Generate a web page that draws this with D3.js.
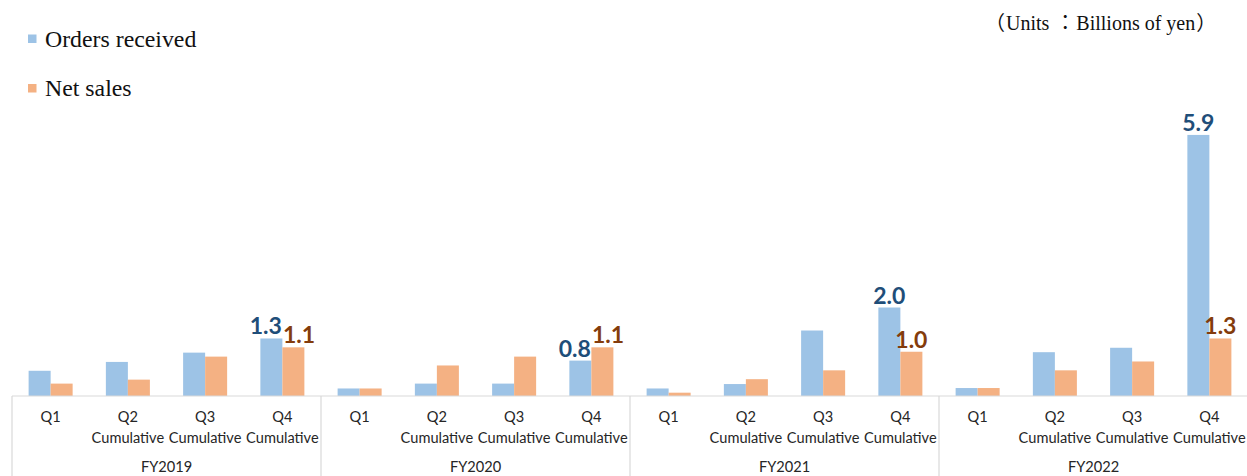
<!DOCTYPE html>
<html>
<head>
<meta charset="utf-8">
<script src="https://cdn.jsdelivr.net/npm/d3@7"></script>
<style>
  html, body { margin: 0; padding: 0; background: #fff; }
  svg { display: block; }
  .serif { font-family: "Liberation Serif", "DejaVu Serif", serif; }
  .cjk { font-family: "Noto Sans CJK JP", sans-serif; }
</style>
</head>
<body>
<svg id="chart" width="1247" height="476"></svg>
<script>
// Fiscal years and cumulative quarter periods
const years = ["FY2019", "FY2020", "FY2021", "FY2022"];
const quarters = ["Q1", "Q2", "Q3", "Q4"];
const quarterSub = ["", "Cumulative", "Cumulative", "Cumulative"];
const seriesNames = ["Orders received", "Net sales"];

// Billions of yen, cumulative per fiscal year (Q1..Q4 for each FY)
const ordersReceived = [
  0.57, 0.77, 0.98, 1.3,
  0.17, 0.28, 0.28, 0.8,
  0.17, 0.27, 1.48, 2.0,
  0.18, 0.99, 1.09, 5.9
];
const netSales = [
  0.28, 0.37, 0.89, 1.1,
  0.17, 0.69, 0.89, 1.1,
  0.075, 0.38, 0.58, 1.0,
  0.18, 0.58, 0.78, 1.3
];
// Values shown with a data label (Q4 cumulative only)
const labelledQuarter = "Q4";

const colors = { "Orders received": "#9DC3E6", "Net sales": "#F4B183" };
const labelColors = { "Orders received": "#1F4E79", "Net sales": "#843C0C" };

const svg = d3.select("#chart");
const left = 12, right = 1248, baseY = 396, topY = 130.5;
const axisFont = "Lato, 'Open Sans', sans-serif";

const x0 = d3.scaleBand().domain(years).range([left, right]).padding(0);
const x1 = d3.scaleBand().domain(quarters).range([0, x0.bandwidth()]).padding(0);
const x2 = d3.scaleBand().domain(seriesNames).range([0, x1.bandwidth()])
  .paddingInner(0).paddingOuter(0.755);
const y = d3.scaleLinear().domain([0, 6]).range([baseY, topY]);

const rows = [];
years.forEach((fy, i) => {
  quarters.forEach((q, j) => {
    const k = i * quarters.length + j;
    rows.push({ fy, q, series: "Orders received", value: ordersReceived[k] });
    rows.push({ fy, q, series: "Net sales", value: netSales[k] });
  });
});

// Bars
svg.append("g").selectAll("rect").data(rows).join("rect")
  .attr("x", d => x0(d.fy) + x1(d.q) + x2(d.series))
  .attr("y", d => y(d.value))
  .attr("width", x2.bandwidth())
  .attr("height", d => y(0) - y(d.value))
  .attr("fill", d => colors[d.series]);

// Category axis: baseline and year separators
const axis = svg.append("g");
axis.append("line")
  .attr("x1", left).attr("x2", right)
  .attr("y1", baseY).attr("y2", baseY)
  .attr("stroke", "#d9d9d9").attr("stroke-width", 1.2);
axis.selectAll("line.sep").data(years.concat(["end"])).join("line")
  .attr("class", "sep")
  .attr("x1", d => d === "end" ? right : x0(d))
  .attr("x2", d => d === "end" ? right : x0(d))
  .attr("y1", baseY).attr("y2", 476)
  .attr("stroke", "#d9d9d9").attr("stroke-width", 1.2);

// Quarter labels
const axisSize = 14.6;
years.forEach(fy => {
  quarters.forEach((q, j) => {
    const cx = x0(fy) + x1(q) + x1.bandwidth() / 2;
    axis.append("text")
      .attr("x", cx).attr("y", 422)
      .attr("text-anchor", "middle")
      .attr("font-family", axisFont).attr("font-size", axisSize)
      .attr("fill", "#262626")
      .text(q);
    if (quarterSub[j]) {
      axis.append("text")
        .attr("x", cx).attr("y", 443)
        .attr("text-anchor", "middle")
        .attr("font-family", axisFont).attr("font-size", axisSize)
        .attr("fill", "#262626")
        .text(quarterSub[j]);
    }
  });
  axis.append("text")
    .attr("x", x0(fy) + x0.bandwidth() / 2).attr("y", 472)
    .attr("text-anchor", "middle")
    .attr("font-family", axisFont).attr("font-size", axisSize)
    .attr("fill", "#262626")
    .text(fy);
});

// Data labels for Q4, pushed apart when they collide
const labelRows = rows.filter(d => d.q === labelledQuarter);
const labels = svg.append("g").selectAll("text").data(labelRows).join("text")
  .attr("text-anchor", "middle")
  .attr("font-family", axisFont).attr("font-weight", "bold").attr("font-size", 23)
  .attr("fill", d => labelColors[d.series])
  .attr("x", d => x0(d.fy) + x1(d.q) + x2(d.series) + x2.bandwidth() / 2)
  .attr("y", d => y(d.value) - 4)
  .text(d => d3.format(".1f")(d.value));

labels.each(function (d) {
  d.w = this.getComputedTextLength();
  d.cx = +this.getAttribute("x");
  d.by = +this.getAttribute("y");
});
years.forEach(fy => {
  const [a, b] = labelRows.filter(d => d.fy === fy);
  const vOverlap = Math.abs(a.by - b.by) < 16;
  const hOverlap = (a.cx + a.w / 2) - (b.cx - b.w / 2);
  if (vOverlap && hOverlap > 0) {
    a.cx -= hOverlap / 2 + 0.5;
    b.cx += hOverlap / 2 + 0.5;
  }
});
labels.attr("x", d => d.cx);

// Legend
const legend = svg.append("g");
seriesNames.forEach((s, i) => {
  const ly = 34.5 + i * 49.5;
  legend.append("rect")
    .attr("x", 28).attr("y", ly).attr("width", 8.5).attr("height", 8.5)
    .attr("fill", colors[s]);
  legend.append("text")
    .attr("class", "serif")
    .attr("x", 45).attr("y", ly + 12.3)
    .attr("font-size", 23.8).attr("fill", "#111")
    .text(s);
});

// Units note: Latin words in serif, full-width punctuation in wide boxes
const unitSize = 20;
const unitParts = [
  { t: "（", wide: true },
  { t: "Units ", wide: false },
  { t: "：", wide: true },
  { t: "Billions of yen", wide: false },
  { t: "）", wide: true }
];
const unitsG = svg.append("g");
let ux = 984;
unitParts.forEach(p => {
  const el = unitsG.append("text")
    .attr("class", p.wide ? "cjk" : "serif")
    .attr("y", 30)
    .attr("font-size", unitSize).attr("fill", "#111")
    .attr("xml:space", "preserve")
    .text(p.t);
  if (p.wide) {
    const box = unitSize * 1.1;
    el.attr("x", ux + box / 2).attr("text-anchor", "middle");
    ux += box;
  } else {
    el.attr("x", ux);
    ux += el.node().getComputedTextLength();
  }
});
</script>
</body>
</html>
